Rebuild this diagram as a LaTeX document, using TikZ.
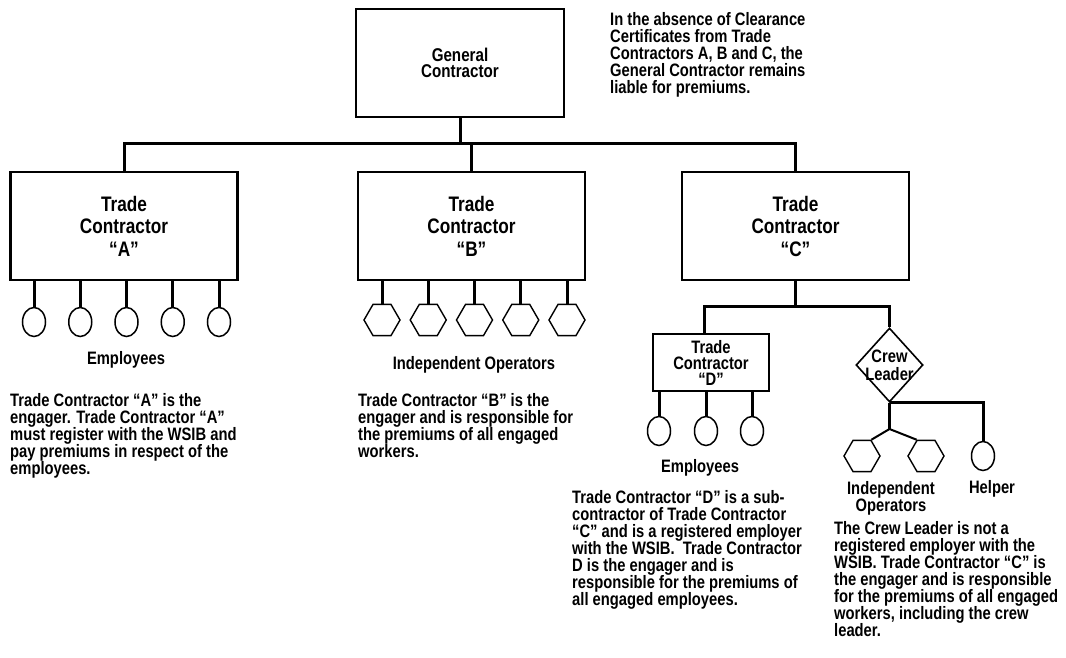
\documentclass[tikz,border=0pt]{standalone}
\usepackage{fontspec}
\setmainfont{Liberation Sans}[FakeStretch=0.82]
\usetikzlibrary{shapes.geometric}

\tikzset{
  boxnode/.style={draw, line width=2.2pt, minimum width=227pt, minimum height=108pt,
    align=center, font=\bfseries\fontsize{21}{22.5}\selectfont},
  emp/.style={draw, ellipse, line width=1.5pt, minimum width=23pt, minimum height=29pt, inner sep=0pt},
  indop/.style={draw, regular polygon, regular polygon sides=6, line width=1.4pt,
    minimum size=36pt, inner sep=0pt},
  link/.style={line width=3pt},
  txt/.style={font=\bfseries\fontsize{18}{17}\selectfont, inner sep=0pt},
  para/.style={txt, align=left, anchor=north west},
}

\begin{document}
\begin{tikzpicture}[x=1pt,y=-1pt]
  \useasboundingbox (0,0) rectangle (1066,658);

  % general contractor and note
  \node[boxnode, minimum width=208pt, font=\bfseries\fontsize{18.5}{16.5}\selectfont] (gc) at (460,63) {General\\Contractor};
  \node[para] (note) at (610,12) {In the absence of Clearance\\Certificates from Trade\\Contractors A, B and C, the\\General Contractor remains\\liable for premiums.};

  % trade contractors
  \coordinate (bus) at (460,144);
  \node[boxnode] (ta) at (124,226) {Trade\\Contractor\\“A”};
  \node[boxnode] (tb) at (471.5,226) {Trade\\Contractor\\“B”};
  \node[boxnode] (tc) at (795.5,226) {Trade\\Contractor\\“C”};
  \draw[link] (gc.south) -- (bus);
  \draw[link] (ta.north) |- (bus) -| (tc.north);
  \draw[link] (tb.north) -- (tb.north |- bus);

  % employees of A
  \foreach \i in {0,...,4} {
    \node[emp] (ea\i) at ({34+46.25*\i},322) {};
    \draw[link] (ea\i.north) -- (ea\i.north |- ta.south);
  }
  \node[txt] (empa) at (126,360) {Employees};
  \node[para] (texta) at (10,393) {Trade Contractor “A” is the\\engager. Trade Contractor “A”\\must register with the WSIB and\\pay premiums in respect of the\\employees.};

  % independent operators of B
  \foreach \i in {0,...,4} {
    \node[indop] (ob\i) at ({382+46.25*\i},320) {};
    \draw[link] (ob\i.north) -- (ob\i.north |- tb.south);
  }
  \node[txt] (opb) at (474,365) {Independent Operators};
  \node[para] (textb) at (358,393) {Trade Contractor “B” is the\\engager and is responsible for\\the premiums of all engaged\\workers.};

  % below C
  \coordinate (cbus) at (795.5,306);
  \node[boxnode, minimum width=116pt, minimum height=57pt, line width=1.8pt,
    font=\bfseries\fontsize{18}{16}\selectfont] (td) at (711,362.5) {Trade\\Contractor\\“D”};
  \node[draw, diamond, line width=1.6pt, minimum width=67pt, minimum height=74pt, inner sep=0pt] (crew) at (889.5,365) {};
  \node[txt, align=center, font=\bfseries\fontsize{18}{18}\selectfont] (crewtxt) at (crew.center) {Crew\\Leader};
  \draw[link] (tc.south) -- (cbus);
  \draw[link] ([xshift=-7pt]td.north) |- (cbus) -| (crew.north);

  % employees of D
  \foreach \x [count=\i] in {659,706,752} {
    \node[emp] (ed\i) at (\x,431) {};
    \draw[link] (ed\i.north) -- (ed\i.north |- td.south);
  }
  \node[txt] (empd) at (700,468) {Employees};
  \node[para] (textd) at (572,490) {Trade Contractor “D” is a sub-\\contractor of Trade Contractor\\“C” and is a registered employer\\with the WSIB.\ \ Trade Contractor\\D is the engager and is\\responsible for the premiums of\\all engaged employees.};

  % crew
  \coordinate (split) at (889.5,429);
  \node[emp] (helper) at (983,456) {};
  \node[indop] (oc1) at (862,456) {};
  \node[indop] (oc2) at (926,456) {};
  \draw[link] (crew.south) -| (helper.north);
  \draw[link] (crew.south) -- (split);
  \draw[line width=2pt] (oc1.60) -- (split) -- (oc2.120);
  \node[txt, align=center] (opc) at (891,498) {Independent\\Operators};
  \node[txt] (help) at (992,489) {Helper};
  \node[para] (textc) at (834,521) {The Crew Leader is not a\\registered employer with the\\WSIB. Trade Contractor “C” is\\the engager and is responsible\\for the premiums of all engaged\\workers, including the crew\\leader.};
\end{tikzpicture}
\end{document}
